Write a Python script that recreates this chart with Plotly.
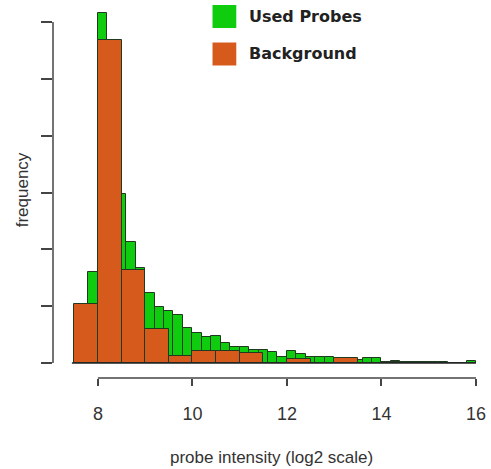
import plotly.graph_objects as go

# ---- data (counts, arbitrary units: 100 per y tick) ----
used_edges_start = 7.6
used_bin_width = 0.2
used_counts = [76, 161, 616, 555, 297, 213, 167, 123, 99, 92, 84, 62, 53, 46, 48,
               36, 28, 29, 23, 23, 19, 11, 21, 15, 11, 10, 10, 5, 3, 5, 8, 8, 1, 4,
               2, 2, 1, 2, 2, 0, 0, 4]

bg_edges_start = 7.5
bg_bin_width = 0.5
bg_counts = [104, 568, 163, 59, 12, 21, 21, 17, 0, 7, 0, 8, 0, 1, 1, 0, 0]

x_ticks = [8, 10, 12, 14, 16]
y_ticks = [0, 100, 200, 300, 400, 500, 600]

used_x = [used_edges_start + used_bin_width * (i + 0.5) for i in range(len(used_counts))]
bg_x = [bg_edges_start + bg_bin_width * (i + 0.5) for i in range(len(bg_counts))]

GREEN = "#0fcc0f"
ORANGE = "#d65a1b"
EDGE = "#203a20"

W, H = 491, 469
ml, mr, mt, mb = 53, 6, 5, 91
pw = W - ml - mr
ph = H - mt - mb

def px(xp):
    return (xp - ml) / pw

def py(yp):
    return 1 - (yp - mt) / ph

fig = go.Figure()
fig.add_trace(go.Bar(x=used_x, y=used_counts, width=used_bin_width,
                     marker=dict(color=GREEN, line=dict(color=EDGE, width=1)),
                     showlegend=False))
fig.add_trace(go.Bar(x=bg_x, y=bg_counts, width=bg_bin_width,
                     marker=dict(color=ORANGE, line=dict(color=EDGE, width=1)),
                     showlegend=False))

ppu = 47.7
x0 = 8 + (ml - 98.3) / ppu
x1 = 8 + (W - mr - 98.3) / ppu
ppc = 0.5683
y0 = -(mt + ph - 363) / ppc
y1 = (363 - mt) / ppc

fig.update_layout(
    width=W, height=H,
    margin=dict(l=ml, r=mr, t=mt, b=mb),
    paper_bgcolor="white", plot_bgcolor="white",
    barmode="overlay", bargap=0,
    font=dict(family="Liberation Sans, Arial, sans-serif", color="#333"),
    xaxis=dict(range=[x0, x1], tickvals=x_ticks, ticktext=[str(v) for v in x_ticks],
               ticks="outside", ticklen=7, tickwidth=1.5, tickcolor="#444",
               ticklabelstandoff=12,
               showgrid=False, zeroline=False, showline=False,
               tickfont=dict(size=18, color="#333")),
    yaxis=dict(range=[y0, y1], tickvals=y_ticks, showticklabels=False,
               ticks="outside", ticklen=11, tickwidth=1.5, tickcolor="#444",
               showgrid=False, zeroline=False, showline=False),
)

fig.add_shape(type="line", xref="x", yref="paper", x0=x_ticks[0], x1=x_ticks[-1],
              y0=0, y1=0, line=dict(color="#444", width=1.5))
fig.add_shape(type="line", xref="paper", yref="y", x0=0, x1=0,
              y0=y_ticks[0], y1=y_ticks[-1], line=dict(color="#444", width=1.5))
fig.add_shape(type="line", xref="x", yref="y", x0=bg_edges_start - 0.05, x1=16,
              y0=0, y1=0, line=dict(color="#222", width=1.5), layer="above")

fig.add_annotation(text="probe intensity (log2 scale)", xref="paper", yref="paper",
                   x=px(274), y=py(458), xanchor="center", yanchor="middle",
                   showarrow=False, font=dict(size=17, color="#333"))
fig.add_annotation(text="frequency", xref="paper", yref="paper",
                   x=px(22), y=py(190), xanchor="center", yanchor="middle",
                   showarrow=False, textangle=-90,
                   font=dict(size=17, color="#333"))

legend_items = [("Used Probes", GREEN, 16.5), ("Background", ORANGE, 54)]
for label, col, cy in legend_items:
    fig.add_shape(type="rect", xref="paper", yref="paper",
                  x0=px(214), x1=px(238), y0=py(cy - 11.5), y1=py(cy + 11.5),
                  fillcolor=col, line=dict(width=0))
    fig.add_annotation(text="<b>" + label + "</b>", xref="paper", yref="paper",
                       x=px(249), y=py(cy), xanchor="left", yanchor="middle",
                       showarrow=False,
                       font=dict(family="DejaVu Sans, sans-serif", size=16, color="#222"))

fig.write_html("out.html")
